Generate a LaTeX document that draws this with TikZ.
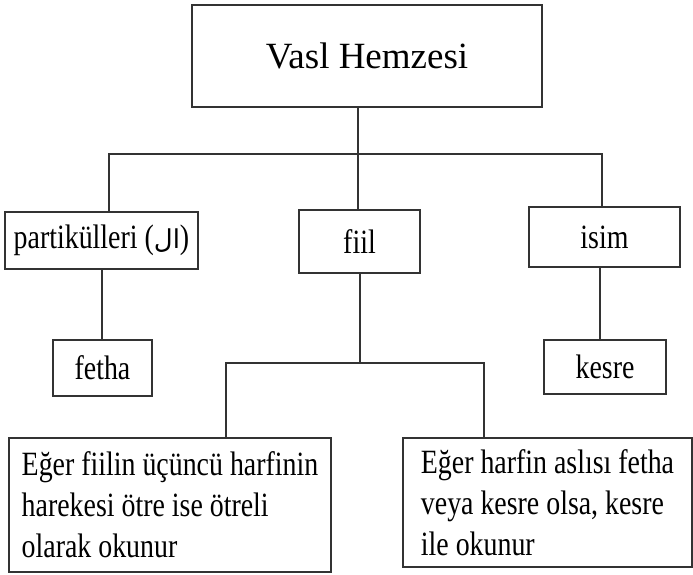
\documentclass[tikz,border=0pt]{standalone}
\usepackage{fontspec}
\setmainfont{Liberation Serif}
\newfontfamily\dar[FakeStretch=0.82]{Liberation Serif}
\newfontfamily\arapca[Script=Arabic]{DejaVu Sans}
\TeXXeTstate=1

\begin{document}
\begin{tikzpicture}[x=1pt,y=-1pt,
        kutu/.style={draw=black!80, line width=1.6pt, rectangle, inner sep=0pt},
        yazi/.style={font=\dar\fontsize{34}{41}\selectfont},
        bag/.style={draw=black!80, line width=1.6pt}]
        \usetikzlibrary{calc}
        \useasboundingbox (0,0) rectangle (693,574);

        \node[kutu, minimum width=350, minimum height=102, font=\fontsize{37}{40}\selectfont] (vasl) at (367,56) {Vasl Hemzesi};

        \node[kutu, yazi, minimum width=193, minimum height=57] (part) at (101.5,240.5) {partikülleri ({\arapca\fontsize{26}{30}\selectfont\beginR ال\endR})};
        \node[kutu, yazi, minimum width=121, minimum height=63] (fiil) at (359.5,241.5) {fiil};
        \node[kutu, yazi, minimum width=151, minimum height=60] (isim) at (604.5,237) {isim};

        \node[kutu, yazi, minimum width=99, minimum height=56] (fetha) at (102.5,368) {fetha};
        \node[kutu, yazi, minimum width=122, minimum height=54] (kesre) at (605,367) {kesre};

        \node[kutu, yazi, align=left, minimum width=322, minimum height=134] (sol) at (170,505)
            {Eğer fiilin üçüncü harfinin\\harekesi ötre ise ötreli\\olarak okunur};
        \node[kutu, yazi, align=left, minimum width=289, minimum height=129] (sag) at (547.5,502.5)
            {Eğer harfin aslısı fetha\\veya kesre olsa, kesre\\ile okunur};

        % ust baglanti
        \coordinate (ustbag) at (358,154);
        \coordinate (solbag) at (109,154);
        \coordinate (sagbag) at (602,154);
        \draw[bag] (vasl.south -| ustbag) -- (fiil.north -| ustbag);
        \draw[bag] (part.north -| solbag) -- (solbag) -- (sagbag) -- (isim.north -| sagbag);

        % fetha ve kesre
        \coordinate (fethabag) at (102,300);
        \coordinate (kesrebag) at (600,300);
        \draw[bag] (part.south -| fethabag) -- (fetha.north -| fethabag);
        \draw[bag] (isim.south -| kesrebag) -- (kesre.north -| kesrebag);

        % fiil alti
        \coordinate (altbag) at (360,363);
        \coordinate (altsol) at (226,363);
        \coordinate (altsag) at (484,363);
        \draw[bag] (fiil.south -| altbag) -- (altbag);
        \draw[bag] (sol.north -| altsol) -- (altsol) -- (altsag) -- (sag.north -| altsag);
    \end{tikzpicture}
\end{document}
